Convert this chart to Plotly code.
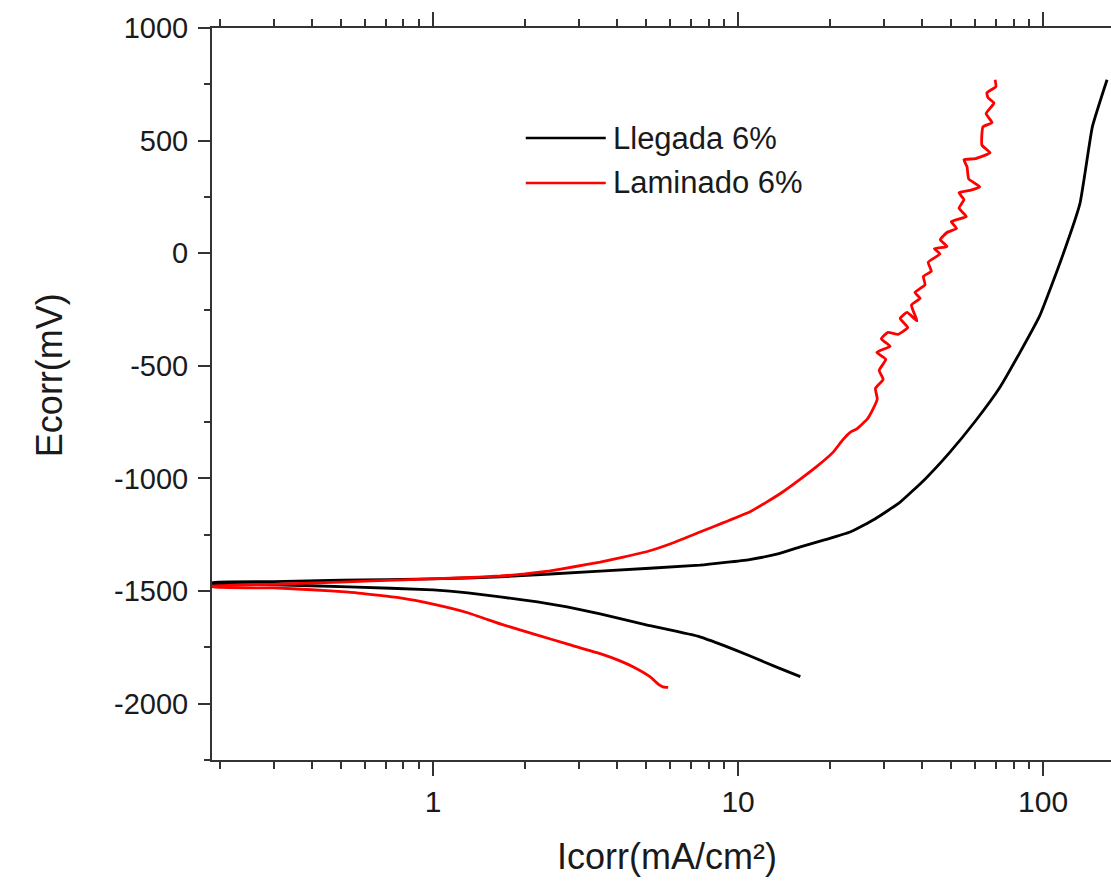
import plotly.graph_objects as go

# Llegada 6% polarization curve (current in mA/cm², potential in mV)
llegada_anodic_i = [0.19, 0.3, 0.5, 1.0, 1.66, 3.53, 7.5, 10.9, 13.5, 16.0, 19.2, 23.3, 28.1, 34.0,
                    41.0, 49.5, 59.9, 72.2, 84.0, 97.6, 114.0, 132.0, 145.0, 162.0]
llegada_anodic_e = [-1462, -1458, -1452, -1446, -1437, -1411, -1385, -1360, -1335, -1304, -1273,
                    -1238, -1180, -1105, -1003, -883, -746, -595, -440, -276, -37, 220, 561, 770]
llegada_cathodic_i = [0.19, 0.3, 0.53, 1.0, 1.3, 1.66, 2.2, 2.75, 3.53, 5.0, 7.5, 9.0, 10.9, 13.5, 16.0]
llegada_cathodic_e = [-1468, -1472, -1481, -1495, -1508, -1526, -1548, -1570, -1601, -1650, -1703,
                      -1742, -1787, -1840, -1880]

# Laminado 6% polarization curve
laminado_anodic_i = [0.19, 0.3, 0.5, 0.8, 1.2, 1.66, 2.0, 2.42, 2.9, 3.53, 4.2, 5.1, 6.2, 7.5, 9.0,
                     10.9, 12.4, 14.0, 16.0, 18.0, 20.5, 22.0, 23.3, 24.5, 26.5, 27.5, 28.6, 28.2,
                     29.9, 29.0, 30.5, 28.5, 31.5, 29.5, 31.0, 33.5, 36.0, 34.0, 35.8, 38.6, 37.0,
                     39.5, 38.0, 41.0, 40.5, 43.0, 42.0, 45.9, 44.0, 48.4, 46.0, 48.4, 52.0, 50.0,
                     56.0, 53.0, 55.0, 53.0, 58.0, 62.0, 57.0, 56.3, 55.0, 60.0, 67.0, 63.0, 63.5,
                     68.0, 65.0, 69.0, 66.0, 65.4, 70.0, 69.6]
laminado_anodic_e = [-1478, -1470, -1460, -1450, -1442, -1433, -1424, -1410, -1392, -1371, -1349,
                     -1322, -1283, -1238, -1195, -1149, -1105, -1060, -1003, -950, -883, -830,
                     -795, -780, -737, -700, -648, -600, -560, -520, -471, -440, -413, -380, -351,
                     -360, -330, -290, -263, -300, -230, -200, -174, -140, -103, -80, -40, -3, 20,
                     30, 60, 92, 110, 140, 163, 200, 238, 269, 280, 295, 330, 384, 415, 420, 446,
                     480, 561, 580, 620, 667, 690, 712, 740, 770]
laminado_cathodic_i = [0.19, 0.3, 0.4, 0.53, 0.78, 1.0, 1.29, 1.7, 2.13, 2.8, 3.53, 4.1, 4.52,
                       5.14, 5.5, 5.67, 5.9]
laminado_cathodic_e = [-1482, -1486, -1494, -1505, -1530, -1558, -1595, -1650, -1690, -1738,
                       -1778, -1810, -1836, -1880, -1915, -1925, -1928]

series_names = ["Llegada 6%", "Laminado 6%"]
series_colors = ["#000000", "#ff0000"]

x_major = [1, 10, 100]
x_minor = [m * d for d in (0.1, 1, 10, 100) for m in range(2, 10)]
y_ticks = [1000, 500, 0, -500, -1000, -1500, -2000]
y_ticktext = [str(v) if v >= 0 else "-" + str(-v) for v in y_ticks]

FONT = "Liberation Sans, Arial, sans-serif"
TXT = "#1a1a1a"
AXIS = "#333333"

fig = go.Figure()
curves = [
    (llegada_cathodic_i[::-1] + llegada_anodic_i, llegada_cathodic_e[::-1] + llegada_anodic_e),
    (laminado_cathodic_i[::-1] + laminado_anodic_i, laminado_cathodic_e[::-1] + laminado_anodic_e),
]
for (xi, ye), name, color in zip(curves, series_names, series_colors):
    fig.add_trace(go.Scatter(x=xi, y=ye, mode="lines", name=name,
                             line=dict(color=color, width=2.8, shape="spline", smoothing=0.4),
                             showlegend=False))

# Legend drawn as line samples with labels
legend_y = [0.8497, 0.7883]
for name, color, ly in zip(series_names, series_colors, legend_y):
    fig.add_shape(type="line", xref="paper", yref="paper", x0=0.349, x1=0.438, y0=ly, y1=ly,
                  line=dict(color=color, width=2.6))
    fig.add_annotation(xref="paper", yref="paper", x=0.444, y=ly, text=name, showarrow=False,
                       xanchor="left", yanchor="middle", font=dict(size=31, color=TXT, family=FONT))

# Axis titles
fig.add_annotation(xref="paper", yref="paper", x=0.506, y=-0.1325, text="Icorr(mA/cm²)",
                   showarrow=False, xanchor="center", yanchor="middle",
                   font=dict(size=36, color=TXT, family=FONT))
fig.add_annotation(xref="paper", yref="paper", x=-0.180, y=0.526, text="Ecorr(mV)",
                   showarrow=False, xanchor="center", yanchor="middle", textangle=-90,
                   font=dict(size=36, color=TXT, family=FONT))

fig.update_xaxes(
    type="log", range=[-0.7246, 2.2225],
    tickmode="array", tickvals=x_major, ticktext=[str(v) for v in x_major],
    ticks="outside", ticklen=14, tickwidth=2, tickcolor=AXIS,
    minor=dict(tickmode="array", tickvals=x_minor, ticks="outside", ticklen=7,
               tickwidth=2, tickcolor=AXIS, showgrid=False),
    showline=True, linecolor=AXIS, linewidth=2, mirror="ticks",
    showgrid=False, zeroline=False,
    tickfont=dict(size=30, color=TXT, family=FONT),
)
fig.update_yaxes(
    range=[-2250, 1000],
    tickmode="array", tickvals=y_ticks, ticktext=y_ticktext,
    ticks="outside", ticklen=12, tickwidth=2, tickcolor=AXIS,
    minor=dict(dtick=250, ticks="outside", ticklen=6, tickwidth=2, tickcolor=AXIS,
               showgrid=False),
    showline=True, linecolor=AXIS, linewidth=2,
    showgrid=False, zeroline=False, ticklabelstandoff=4,
    tickfont=dict(size=29, color=TXT, family=FONT),
)

fig.update_layout(
    width=1111, height=883,
    margin=dict(l=212, r=0, t=28, b=123),
    paper_bgcolor="white", plot_bgcolor="white",
    font=dict(family=FONT, color=TXT),
)

fig.write_html("out.html")
